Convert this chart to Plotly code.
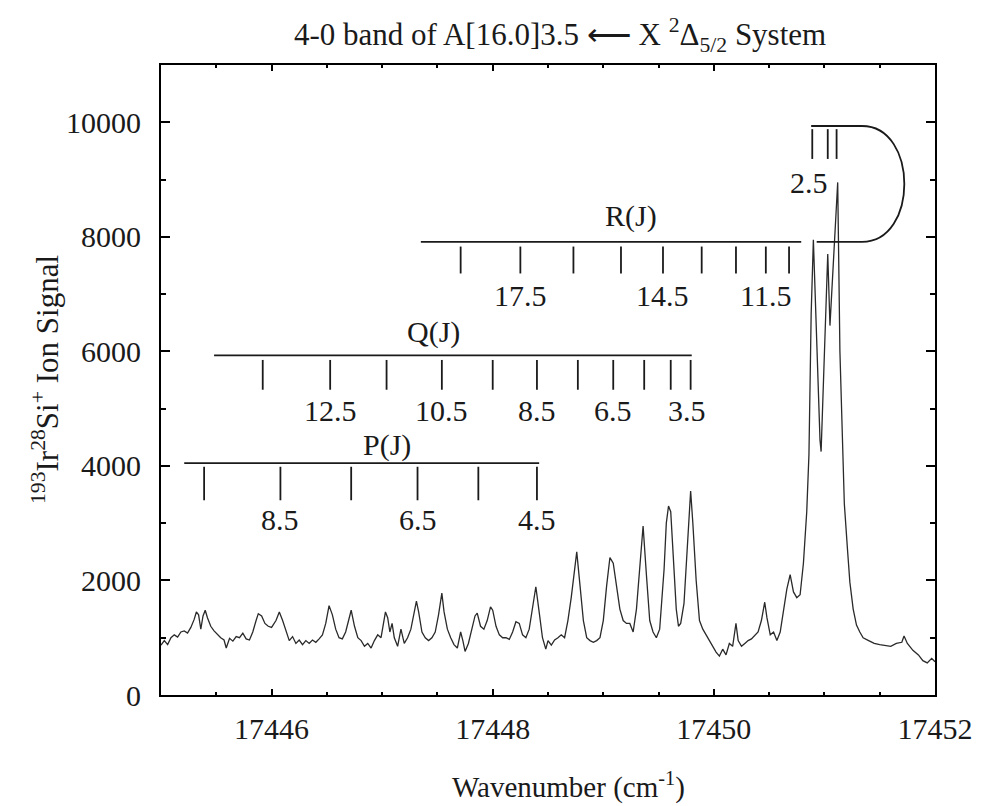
import plotly.graph_objects as go

# ---------------- data ----------------
wavenumber = [
    17445.00, 17445.03, 17445.06, 17445.09, 17445.12, 17445.15, 17445.18, 17445.21, 17445.24, 17445.27,
    17445.30, 17445.32, 17445.34, 17445.36, 17445.38, 17445.40, 17445.42, 17445.45, 17445.48, 17445.51,
    17445.54, 17445.57, 17445.59, 17445.62, 17445.65, 17445.68, 17445.71, 17445.74, 17445.77, 17445.80,
    17445.83, 17445.86, 17445.88, 17445.91, 17445.94, 17445.97, 17446.00, 17446.04, 17446.07, 17446.10,
    17446.13, 17446.16, 17446.19, 17446.22, 17446.25, 17446.28, 17446.31, 17446.34, 17446.37, 17446.40,
    17446.43, 17446.46, 17446.49, 17446.52, 17446.55, 17446.58, 17446.61, 17446.64, 17446.67, 17446.70,
    17446.72, 17446.75, 17446.78, 17446.81, 17446.84, 17446.87, 17446.90, 17446.93, 17446.96, 17446.99,
    17447.01, 17447.03, 17447.05, 17447.07, 17447.09, 17447.11, 17447.14, 17447.17, 17447.20, 17447.23,
    17447.26, 17447.29, 17447.31, 17447.33, 17447.36, 17447.39, 17447.42, 17447.45, 17447.48, 17447.51,
    17447.54, 17447.56, 17447.59, 17447.62, 17447.65, 17447.68, 17447.71, 17447.73, 17447.75, 17447.78,
    17447.81, 17447.84, 17447.86, 17447.89, 17447.92, 17447.95, 17447.98, 17448.00, 17448.03, 17448.06,
    17448.09, 17448.12, 17448.15, 17448.18, 17448.21, 17448.24, 17448.27, 17448.30, 17448.33, 17448.36,
    17448.39, 17448.42, 17448.45, 17448.48, 17448.50, 17448.53, 17448.56, 17448.59, 17448.62, 17448.65,
    17448.68, 17448.71, 17448.74, 17448.76, 17448.79, 17448.82, 17448.85, 17448.88, 17448.91, 17448.94,
    17448.97, 17449.00, 17449.03, 17449.06, 17449.09, 17449.12, 17449.15, 17449.18, 17449.21, 17449.24,
    17449.27, 17449.30, 17449.33, 17449.36, 17449.39, 17449.42, 17449.45, 17449.48, 17449.51, 17449.53,
    17449.55, 17449.57, 17449.59, 17449.61, 17449.63, 17449.66, 17449.68, 17449.70, 17449.73, 17449.76,
    17449.79, 17449.81, 17449.84, 17449.87, 17449.90, 17449.93, 17449.96, 17449.99, 17450.02, 17450.05,
    17450.08, 17450.11, 17450.14, 17450.17, 17450.20, 17450.22, 17450.25, 17450.28, 17450.31, 17450.34,
    17450.37, 17450.40, 17450.43, 17450.46, 17450.48, 17450.51, 17450.54, 17450.57, 17450.60, 17450.63,
    17450.66, 17450.69, 17450.72, 17450.75, 17450.78, 17450.81, 17450.84, 17450.86, 17450.88, 17450.90,
    17450.93, 17450.96, 17450.97, 17451.00, 17451.03, 17451.05, 17451.08, 17451.12, 17451.14, 17451.16,
    17451.18, 17451.21, 17451.23, 17451.26, 17451.29, 17451.32, 17451.35, 17451.40, 17451.45, 17451.50,
    17451.55, 17451.60, 17451.65, 17451.70, 17451.72, 17451.75, 17451.80, 17451.85, 17451.89, 17451.93,
    17451.97, 17452.00,
]
signal = [
    870, 950, 880, 1000, 1050, 1010, 1100, 1120, 1080, 1180,
    1320, 1450, 1400, 1150, 1380, 1480, 1350, 1200, 1120, 1050,
    1000, 960, 820, 990, 940, 1020, 1000, 1080, 980, 960,
    1100, 1300, 1420, 1380, 1250, 1200, 1180, 1300, 1450, 1300,
    1120, 950, 1020, 900, 960, 880, 950, 900, 960, 920,
    980, 1050, 1250, 1560, 1400, 1150, 1000, 980, 1100, 1350,
    1480, 1200, 1000, 950, 850, 900, 820, 950, 1050, 1000,
    1250, 1450, 1350, 1100, 1250, 1000, 850, 1150, 900, 1000,
    1150, 1450, 1640, 1450, 1100, 1000, 950, 1000, 1100, 1400,
    1780, 1450, 1150, 1000, 880, 820, 1100, 950, 760, 900,
    1150, 1380, 1430, 1200, 1150, 1300, 1540, 1480, 1200, 1050,
    1000, 1000, 970, 1100, 1280, 1250, 1050, 1000, 1150, 1500,
    1890, 1450, 1000, 800, 950, 870, 960, 1000, 1050, 1000,
    1300, 1700, 2200, 2500, 1900, 1300, 1000, 950, 920, 950,
    1000, 1300, 1900, 2400, 2300, 1900, 1500, 1300, 1250, 1250,
    1100, 1500, 2200, 2950, 2100, 1300, 1100, 1000, 1150, 1700,
    2200, 3000, 3300, 3200, 2500, 1500, 1200, 1250, 1600, 2600,
    3560, 3000, 2000, 1300, 1150, 1050, 950, 850, 750, 680,
    800, 700, 900, 850, 1250, 950, 850, 900, 950, 980,
    1050, 1100, 1300, 1620, 1350, 1050, 1100, 950, 1100, 1450,
    1850, 2100, 1800, 1700, 1750, 2300, 3200, 4200, 6650, 7950,
    6000, 4450, 4250, 6000, 7700, 6450, 7500, 8950, 6000, 4500,
    3340, 2500, 1970, 1500, 1220, 1100, 1000, 950, 900, 880,
    870, 850, 900, 920, 1030, 900, 780, 700, 600, 560,
    640, 580,
]

# rotational assignment combs (line positions, cm^-1)
r_lines = [17447.71, 17448.25, 17448.73, 17449.16, 17449.54, 17449.89, 17450.20, 17450.47, 17450.68]
r_labels = ["17.5", "14.5", "11.5"]
r_label_pos = [17448.25, 17449.54, 17450.47]
r_bar = [17447.35, 17450.79]

q_lines = [17445.92, 17446.53, 17447.04, 17447.54, 17448.00, 17448.40, 17448.77, 17449.09, 17449.37,
           17449.61, 17449.79]
q_labels = ["12.5", "10.5", "8.5", "6.5", "3.5"]
q_label_pos = [17446.53, 17447.54, 17448.40, 17449.09, 17449.76]
q_bar = [17445.48, 17449.80]

p_lines = [17445.39, 17446.08, 17446.72, 17447.32, 17447.87, 17448.40]
p_labels = ["8.5", "6.5", "4.5"]
p_label_pos = [17446.08, 17447.32, 17448.40]
p_bar = [17445.21, 17448.42]

j25_lines = [17450.89, 17451.03, 17451.11]
j25_bar = [17450.88, 17451.34]
j25_low = [17450.93, 17451.34]

# level (signal units) of each comb: [bar, tick top, tick bottom, label]
r_level = [7910, 7830, 7360, 6980]
q_level = [5930, 5850, 5330, 4960]
p_level = [4050, 3985, 3400, 3065]
j25_level = [9935, 9880, 9360, 8950]

FONT = "Liberation Serif, Times New Roman, serif"
INK = "#1a1a1a"

fig = go.Figure()

fig.add_trace(go.Scatter(x=wavenumber, y=signal, mode="lines",
                         line=dict(color="#2a2a2a", width=1.3), hoverinfo="skip",
                         showlegend=False))


def comb(lines, bar, level):
    xs, ys = [bar[0], bar[1], None], [level[0], level[0], None]
    for v in lines:
        xs += [v, v, None]
        ys += [level[1], level[2], None]
    return xs, ys


for lines, bar, level in [(r_lines, r_bar, r_level), (q_lines, q_bar, q_level),
                          (p_lines, p_bar, p_level), (j25_lines, j25_bar, j25_level)]:
    xs, ys = comb(lines, bar, level)
    fig.add_trace(go.Scatter(x=xs, y=ys, mode="lines", line=dict(color=INK, width=1.8),
                             hoverinfo="skip", showlegend=False))

# lower bar of the J=2.5 bracket
fig.add_trace(go.Scatter(x=j25_low, y=[r_level[0], r_level[0]], mode="lines",
                         line=dict(color=INK, width=1.8), hoverinfo="skip", showlegend=False))

# curved bracket joining J=2.5 group to R branch
x0 = j25_bar[1]
c = 17451.85
fig.add_shape(type="path", xref="x", yref="y",
              path=f"M {x0},{j25_level[0]} C {c},{j25_level[0]} {c},{r_level[0]} {x0},{r_level[0]}",
              line=dict(color=INK, width=1.8))

ann_font = dict(family=FONT, size=30, color=INK)
for labels, pos, level in [(r_labels, r_label_pos, r_level), (q_labels, q_label_pos, q_level),
                           (p_labels, p_label_pos, p_level)]:
    for t, xp in zip(labels, pos):
        fig.add_annotation(x=xp, y=level[3], text=t, showarrow=False, font=ann_font,
                           xanchor="center", yanchor="middle")
fig.add_annotation(x=17450.86, y=j25_level[3], text="2.5", showarrow=False, font=ann_font)
fig.add_annotation(x=17449.25, y=8360, text="R(J)", showarrow=False, font=ann_font)
fig.add_annotation(x=17447.46, y=6330, text="Q(J)", showarrow=False, font=ann_font)
fig.add_annotation(x=17447.04, y=4360, text="P(J)", showarrow=False, font=ann_font)

# titles
fig.add_annotation(xref="paper", yref="paper", x=0.515, y=1.0, yshift=30, xanchor="center",
                   yanchor="middle", showarrow=False,
                   text="4-0 band of A[16.0]3.5 \u27f5 X <sup>2</sup>\u0394<sub>5/2</sub> System",
                   font=dict(family=FONT, size=31, color=INK))
fig.add_annotation(xref="paper", yref="paper", x=0.527, y=0.0, yshift=-90, xanchor="center",
                   yanchor="middle", showarrow=False,
                   text="Wavenumber (cm<sup>-1</sup>)",
                   font=dict(family=FONT, size=29, color=INK))
fig.add_annotation(xref="paper", yref="paper", x=0.0, xshift=-116, y=0.5, xanchor="center",
                   yanchor="middle", showarrow=False, textangle=-90,
                   text="<sup>193</sup>Ir<sup>28</sup>Si<sup>+</sup> Ion Signal",
                   font=dict(family=FONT, size=31, color=INK))

axis_common = dict(showline=True, linecolor="black", linewidth=2.2, mirror="allticks",
                   ticks="inside", tickcolor="black", tickwidth=1.8, showgrid=False,
                   zeroline=False, tickfont=dict(family=FONT, size=30, color=INK))

fig.update_xaxes(range=[17445, 17452], tickmode="linear", tick0=17446, dtick=2, ticklen=6,
                 minor=dict(ticks="inside", dtick=0.5, ticklen=3, tickcolor="black", tickwidth=1.5),
                 tickformat="d", ticklabelstandoff=6, **axis_common)
fig.update_yaxes(range=[0, 11000], tickmode="linear", tick0=0, dtick=2000, ticklen=9,
                 minor=dict(ticks="inside", dtick=1000, ticklen=5, tickcolor="black", tickwidth=1.5),
                 tickformat="d", ticklabelstandoff=12, **axis_common)

fig.update_layout(width=985, height=806, margin=dict(l=161, r=46, t=65, b=111),
                  paper_bgcolor="white", plot_bgcolor="white", showlegend=False)

fig.write_html("out.html")
